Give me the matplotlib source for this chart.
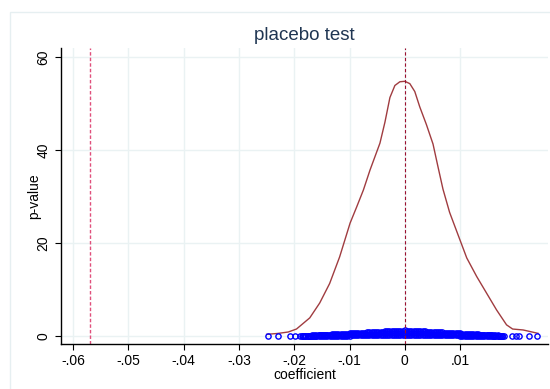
import numpy as np
import matplotlib
matplotlib.use("Agg")
import matplotlib.pyplot as plt
from matplotlib.patches import Rectangle

plt.rcParams['font.family'] = ['Liberation Sans', 'DejaVu Sans']

# 核密度曲线 (系数 -> 密度)
kd_x = [-0.0250, -0.0230, -0.0211, -0.0196, -0.0185, -0.0172, -0.0154, -0.0136,
        -0.0118, -0.0099, -0.0087, -0.0075, -0.0063, -0.0054, -0.0045, -0.0036,
        -0.0027, -0.0018, -0.0009, 0.0000, 0.0009, 0.0018, 0.0027, 0.0039,
        0.0051, 0.0060, 0.0069, 0.0081, 0.0093, 0.0112, 0.0130, 0.0148,
        0.0166, 0.0184, 0.0195, 0.0214, 0.0241]
kd_y = [0.36, 0.55, 0.86, 1.5, 2.6, 3.9, 7.1, 11.3,
        17.0, 24.3, 27.8, 31.4, 35.7, 38.6, 41.5, 46.0,
        51.3, 53.9, 54.7, 54.8, 54.3, 52.6, 49.3, 45.5,
        41.3, 36.4, 31.6, 26.6, 22.8, 16.8, 12.8, 9.2,
        5.6, 2.4, 1.5, 1.3, 0.57]

# 安慰剂回归系数与p值 (密集部分)
coef = [-0.0184, -0.0180, -0.0176, -0.0172, -0.0168, -0.0164, -0.0160, -0.0156,
        -0.0152, -0.0148, -0.0144, -0.0140, -0.0136, -0.0132, -0.0128, -0.0124,
        -0.0120, -0.0116, -0.0112, -0.0108, -0.0104, -0.0100, -0.0096, -0.0092,
        -0.0088, -0.0084, -0.0080, -0.0076, -0.0072, -0.0068, -0.0064, -0.0060,
        -0.0056, -0.0052, -0.0048, -0.0044, -0.0040, -0.0036, -0.0032, -0.0028,
        -0.0024, -0.0020, -0.0016, -0.0012, -0.0008, -0.0004, 0.0000, 0.0004,
        0.0008, 0.0012, 0.0016, 0.0020, 0.0024, 0.0028, 0.0032, 0.0036,
        0.0040, 0.0044, 0.0048, 0.0052, 0.0056, 0.0060, 0.0064, 0.0068,
        0.0072, 0.0076, 0.0080, 0.0084, 0.0088, 0.0092, 0.0096, 0.0100,
        0.0104, 0.0108, 0.0112, 0.0116, 0.0120, 0.0124, 0.0128, 0.0132,
        0.0136, 0.0140, 0.0144, 0.0148, 0.0152, 0.0156, 0.0160, 0.0164,
        0.0168, 0.0172, 0.0176]
p_hi = [0.01, 0.03, 0.06, 0.08, 0.11, 0.14, 0.16, 0.19,
        0.21, 0.24, 0.27, 0.29, 0.32, 0.34, 0.37, 0.40,
        0.42, 0.45, 0.47, 0.50, 0.53, 0.55, 0.58, 0.60,
        0.63, 0.66, 0.68, 0.71, 0.73, 0.76, 0.79, 0.81,
        0.84, 0.86, 0.89, 0.92, 0.94, 0.97, 0.99, 1.02,
        1.04, 1.07, 1.10, 1.12, 1.15, 1.17, 1.20, 1.17,
        1.15, 1.12, 1.10, 1.07, 1.04, 1.02, 0.99, 0.97,
        0.94, 0.92, 0.89, 0.86, 0.84, 0.81, 0.79, 0.76,
        0.73, 0.71, 0.68, 0.66, 0.63, 0.60, 0.58, 0.55,
        0.53, 0.50, 0.47, 0.45, 0.42, 0.40, 0.37, 0.34,
        0.32, 0.29, 0.27, 0.24, 0.21, 0.19, 0.16, 0.14,
        0.11, 0.08, 0.06]
p_mid = [0.01, 0.02, 0.04, 0.05, 0.07, 0.09, 0.10, 0.12,
         0.13, 0.15, 0.16, 0.18, 0.19, 0.21, 0.22, 0.24,
         0.25, 0.27, 0.28, 0.30, 0.32, 0.33, 0.35, 0.36,
         0.38, 0.39, 0.40, 0.42, 0.43, 0.45, 0.47, 0.48,
         0.49, 0.51, 0.52, 0.54, 0.55, 0.57, 0.58, 0.59,
         0.60, 0.62, 0.64, 0.65, 0.66, 0.67, 0.69, 0.67,
         0.66, 0.65, 0.64, 0.62, 0.60, 0.59, 0.58, 0.57,
         0.55, 0.54, 0.52, 0.51, 0.49, 0.48, 0.47, 0.45,
         0.43, 0.42, 0.40, 0.39, 0.38, 0.36, 0.35, 0.33,
         0.32, 0.30, 0.28, 0.27, 0.25, 0.24, 0.22, 0.21,
         0.19, 0.18, 0.16, 0.15, 0.13, 0.12, 0.10, 0.09,
         0.07, 0.05, 0.04]
p_lo = [0.00, 0.01, 0.01, 0.02, 0.02, 0.03, 0.03, 0.04,
        0.04, 0.05, 0.05, 0.06, 0.06, 0.07, 0.07, 0.08,
        0.08, 0.09, 0.09, 0.10, 0.10, 0.10, 0.11, 0.11,
        0.12, 0.12, 0.12, 0.13, 0.13, 0.13, 0.14, 0.14,
        0.14, 0.15, 0.15, 0.15, 0.15, 0.16, 0.16, 0.16,
        0.16, 0.16, 0.17, 0.17, 0.17, 0.17, 0.17, 0.17,
        0.17, 0.17, 0.17, 0.16, 0.16, 0.16, 0.16, 0.16,
        0.15, 0.15, 0.15, 0.15, 0.14, 0.14, 0.14, 0.13,
        0.13, 0.13, 0.12, 0.12, 0.12, 0.11, 0.11, 0.10,
        0.10, 0.10, 0.09, 0.09, 0.08, 0.08, 0.07, 0.07,
        0.06, 0.06, 0.05, 0.05, 0.04, 0.04, 0.03, 0.03,
        0.02, 0.02, 0.01]

# 尾部零散点
tail_x = [-0.0248, -0.0230, -0.0208, -0.0199, -0.0190, -0.0186,
          0.0180, 0.0193, 0.0202, 0.0207, 0.0225, 0.0240]
tail_p = [0.01, 0.01, 0.02, 0.02, 0.02, 0.01,
          0.02, 0.02, 0.01, 0.02, 0.01, 0.01]

true_coef = -0.0569
xticks = [-0.06, -0.05, -0.04, -0.03, -0.02, -0.01, 0.0, 0.01]
xtick_labels = ["-.06", "-.05", "-.04", "-.03", "-.02", "-.01", "0", ".01"]
yticks = [0, 20, 40, 60]

fig = plt.figure(figsize=(5.5, 3.89), dpi=100)
fig.patches.append(Rectangle((10 / 550, -0.05), 1.0, 1 - 12 / 389 + 0.05,
                             transform=fig.transFigure, fill=False,
                             edgecolor="#e6eff1", linewidth=1.0))
ax = fig.add_axes([61 / 550, 1 - 344 / 389, 487 / 550, (344 - 48.3) / 389])

ax.plot(kd_x, kd_y, color="#a03c40", lw=1.0, zorder=3)
mk = dict(ls='none', marker='o', mfc='none', mec='#0000ff', ms=3.8, mew=1.0, zorder=4)
ax.plot(coef, p_hi, **mk)
ax.plot(coef, p_mid, **mk)
ax.plot(coef, p_lo, **mk)
ax.plot(tail_x, tail_p, **mk)
ax.axvline(true_coef, color="#e0507c", lw=1.0, ls=(0, (2.5, 1.5)), zorder=2)
ax.axvline(0, color="#9b1030", lw=0.8, ls=(0, (3, 2)), zorder=5)

ax.set_xlim(-0.0622, 0.0259)
ax.set_ylim(-1.72, 61.9)
ax.set_xticks(xticks)
ax.set_xticklabels(xtick_labels)
ax.set_yticks(yticks)
ax.set_yticklabels([str(v) for v in yticks], rotation=90, va='center')
ax.tick_params(direction='out', length=4, width=0.8, labelsize=10, color='black')
ax.grid(True, color="#eaf2f3", lw=1.0)
ax.set_axisbelow(True)
for s in ['top', 'right']:
    ax.spines[s].set_visible(False)
for s in ['left', 'bottom']:
    ax.spines[s].set_linewidth(1.0)
ax.set_xlabel("coefficient", fontsize=10, labelpad=0)
ax.set_ylabel("p-value", fontsize=10, labelpad=-3)
ax.set_title("placebo test", fontsize=13.5, color="#1f3552", pad=6)

fig.savefig("out.png", dpi=100)
